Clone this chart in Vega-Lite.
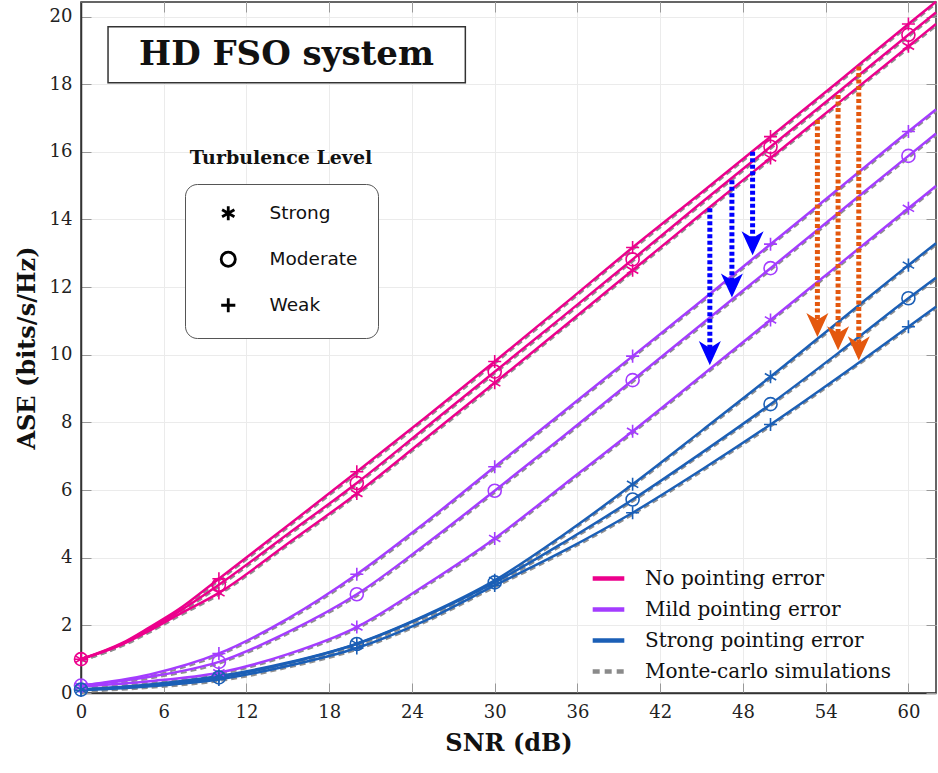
{
  "$schema": "https://vega.github.io/schema/vega-lite/v6.json",
  "width": 855,
  "height": 691,
  "autosize": {"type": "none"},
  "padding": {"left": 81, "top": 2, "right": 2, "bottom": 80},
  "background": "white",
  "config": {
    "view": {"stroke": "#333", "strokeWidth": 1.5},
    "font": "DejaVu Serif"
  },
  "datasets": {
    "curves": [
      {"pe": "No pointing error", "turb": "Weak", "snr": 0, "ase": 1.0},
      {"pe": "No pointing error", "turb": "Weak", "snr": 3, "ase": 1.48},
      {"pe": "No pointing error", "turb": "Weak", "snr": 5, "ase": 1.95},
      {"pe": "No pointing error", "turb": "Weak", "snr": 7, "ase": 2.45},
      {"pe": "No pointing error", "turb": "Weak", "snr": 10, "ase": 3.38},
      {"pe": "No pointing error", "turb": "Weak", "snr": 15, "ase": 4.95},
      {"pe": "No pointing error", "turb": "Weak", "snr": 20, "ase": 6.54},
      {"pe": "No pointing error", "turb": "Weak", "snr": 25, "ase": 8.15},
      {"pe": "No pointing error", "turb": "Weak", "snr": 30, "ase": 9.8},
      {"pe": "No pointing error", "turb": "Weak", "snr": 35, "ase": 11.48},
      {"pe": "No pointing error", "turb": "Weak", "snr": 40, "ase": 13.17},
      {"pe": "No pointing error", "turb": "Weak", "snr": 45, "ase": 14.8},
      {"pe": "No pointing error", "turb": "Weak", "snr": 50, "ase": 16.45},
      {"pe": "No pointing error", "turb": "Weak", "snr": 55, "ase": 18.1},
      {"pe": "No pointing error", "turb": "Weak", "snr": 60, "ase": 19.78},
      {"pe": "No pointing error", "turb": "Weak", "snr": 62, "ase": 20.44},
      {"pe": "No pointing error", "turb": "Moderate", "snr": 0, "ase": 1.0},
      {"pe": "No pointing error", "turb": "Moderate", "snr": 3, "ase": 1.46},
      {"pe": "No pointing error", "turb": "Moderate", "snr": 5, "ase": 1.9},
      {"pe": "No pointing error", "turb": "Moderate", "snr": 7, "ase": 2.38},
      {"pe": "No pointing error", "turb": "Moderate", "snr": 10, "ase": 3.2},
      {"pe": "No pointing error", "turb": "Moderate", "snr": 15, "ase": 4.7},
      {"pe": "No pointing error", "turb": "Moderate", "snr": 20, "ase": 6.21},
      {"pe": "No pointing error", "turb": "Moderate", "snr": 25, "ase": 7.85},
      {"pe": "No pointing error", "turb": "Moderate", "snr": 30, "ase": 9.5},
      {"pe": "No pointing error", "turb": "Moderate", "snr": 35, "ase": 11.15},
      {"pe": "No pointing error", "turb": "Moderate", "snr": 40, "ase": 12.82},
      {"pe": "No pointing error", "turb": "Moderate", "snr": 45, "ase": 14.5},
      {"pe": "No pointing error", "turb": "Moderate", "snr": 50, "ase": 16.15},
      {"pe": "No pointing error", "turb": "Moderate", "snr": 55, "ase": 17.8},
      {"pe": "No pointing error", "turb": "Moderate", "snr": 60, "ase": 19.46},
      {"pe": "No pointing error", "turb": "Moderate", "snr": 62, "ase": 20.12},
      {"pe": "No pointing error", "turb": "Strong", "snr": 0, "ase": 1.0},
      {"pe": "No pointing error", "turb": "Strong", "snr": 3, "ase": 1.44},
      {"pe": "No pointing error", "turb": "Strong", "snr": 5, "ase": 1.85},
      {"pe": "No pointing error", "turb": "Strong", "snr": 7, "ase": 2.3},
      {"pe": "No pointing error", "turb": "Strong", "snr": 10, "ase": 2.96},
      {"pe": "No pointing error", "turb": "Strong", "snr": 15, "ase": 4.42},
      {"pe": "No pointing error", "turb": "Strong", "snr": 20, "ase": 5.9},
      {"pe": "No pointing error", "turb": "Strong", "snr": 25, "ase": 7.53},
      {"pe": "No pointing error", "turb": "Strong", "snr": 30, "ase": 9.17},
      {"pe": "No pointing error", "turb": "Strong", "snr": 35, "ase": 10.83},
      {"pe": "No pointing error", "turb": "Strong", "snr": 40, "ase": 12.5},
      {"pe": "No pointing error", "turb": "Strong", "snr": 45, "ase": 14.17},
      {"pe": "No pointing error", "turb": "Strong", "snr": 50, "ase": 15.82},
      {"pe": "No pointing error", "turb": "Strong", "snr": 55, "ase": 17.47},
      {"pe": "No pointing error", "turb": "Strong", "snr": 60, "ase": 19.12},
      {"pe": "No pointing error", "turb": "Strong", "snr": 62, "ase": 19.78},
      {"pe": "Mild pointing error", "turb": "Weak", "snr": 0, "ase": 0.22},
      {"pe": "Mild pointing error", "turb": "Weak", "snr": 5, "ase": 0.55},
      {"pe": "Mild pointing error", "turb": "Weak", "snr": 10, "ase": 1.17},
      {"pe": "Mild pointing error", "turb": "Weak", "snr": 15, "ase": 2.2},
      {"pe": "Mild pointing error", "turb": "Weak", "snr": 20, "ase": 3.51},
      {"pe": "Mild pointing error", "turb": "Weak", "snr": 25, "ase": 5.05},
      {"pe": "Mild pointing error", "turb": "Weak", "snr": 30, "ase": 6.69},
      {"pe": "Mild pointing error", "turb": "Weak", "snr": 35, "ase": 8.32},
      {"pe": "Mild pointing error", "turb": "Weak", "snr": 40, "ase": 9.96},
      {"pe": "Mild pointing error", "turb": "Weak", "snr": 45, "ase": 11.6},
      {"pe": "Mild pointing error", "turb": "Weak", "snr": 50, "ase": 13.27},
      {"pe": "Mild pointing error", "turb": "Weak", "snr": 55, "ase": 14.93},
      {"pe": "Mild pointing error", "turb": "Weak", "snr": 60, "ase": 16.6},
      {"pe": "Mild pointing error", "turb": "Weak", "snr": 62, "ase": 17.25},
      {"pe": "Mild pointing error", "turb": "Moderate", "snr": 0, "ase": 0.22},
      {"pe": "Mild pointing error", "turb": "Moderate", "snr": 5, "ase": 0.48},
      {"pe": "Mild pointing error", "turb": "Moderate", "snr": 10, "ase": 0.92},
      {"pe": "Mild pointing error", "turb": "Moderate", "snr": 15, "ase": 1.8},
      {"pe": "Mild pointing error", "turb": "Moderate", "snr": 20, "ase": 2.92},
      {"pe": "Mild pointing error", "turb": "Moderate", "snr": 25, "ase": 4.4},
      {"pe": "Mild pointing error", "turb": "Moderate", "snr": 30, "ase": 5.98},
      {"pe": "Mild pointing error", "turb": "Moderate", "snr": 35, "ase": 7.6},
      {"pe": "Mild pointing error", "turb": "Moderate", "snr": 40, "ase": 9.25},
      {"pe": "Mild pointing error", "turb": "Moderate", "snr": 45, "ase": 10.9},
      {"pe": "Mild pointing error", "turb": "Moderate", "snr": 50, "ase": 12.56},
      {"pe": "Mild pointing error", "turb": "Moderate", "snr": 55, "ase": 14.22},
      {"pe": "Mild pointing error", "turb": "Moderate", "snr": 60, "ase": 15.88},
      {"pe": "Mild pointing error", "turb": "Moderate", "snr": 62, "ase": 16.54},
      {"pe": "Mild pointing error", "turb": "Strong", "snr": 0, "ase": 0.2},
      {"pe": "Mild pointing error", "turb": "Strong", "snr": 5, "ase": 0.35},
      {"pe": "Mild pointing error", "turb": "Strong", "snr": 10, "ase": 0.6},
      {"pe": "Mild pointing error", "turb": "Strong", "snr": 15, "ase": 1.15},
      {"pe": "Mild pointing error", "turb": "Strong", "snr": 20, "ase": 1.95},
      {"pe": "Mild pointing error", "turb": "Strong", "snr": 25, "ase": 3.2},
      {"pe": "Mild pointing error", "turb": "Strong", "snr": 30, "ase": 4.57},
      {"pe": "Mild pointing error", "turb": "Strong", "snr": 35, "ase": 6.15},
      {"pe": "Mild pointing error", "turb": "Strong", "snr": 40, "ase": 7.74},
      {"pe": "Mild pointing error", "turb": "Strong", "snr": 45, "ase": 9.38},
      {"pe": "Mild pointing error", "turb": "Strong", "snr": 50, "ase": 11.03},
      {"pe": "Mild pointing error", "turb": "Strong", "snr": 55, "ase": 12.68},
      {"pe": "Mild pointing error", "turb": "Strong", "snr": 60, "ase": 14.33},
      {"pe": "Mild pointing error", "turb": "Strong", "snr": 62, "ase": 14.99},
      {"pe": "Strong pointing error", "turb": "Strong", "snr": 0, "ase": 0.1},
      {"pe": "Strong pointing error", "turb": "Strong", "snr": 5, "ase": 0.25},
      {"pe": "Strong pointing error", "turb": "Strong", "snr": 10, "ase": 0.5},
      {"pe": "Strong pointing error", "turb": "Strong", "snr": 15, "ase": 0.9},
      {"pe": "Strong pointing error", "turb": "Strong", "snr": 20, "ase": 1.46},
      {"pe": "Strong pointing error", "turb": "Strong", "snr": 25, "ase": 2.3},
      {"pe": "Strong pointing error", "turb": "Strong", "snr": 30, "ase": 3.33},
      {"pe": "Strong pointing error", "turb": "Strong", "snr": 35, "ase": 4.68},
      {"pe": "Strong pointing error", "turb": "Strong", "snr": 40, "ase": 6.17},
      {"pe": "Strong pointing error", "turb": "Strong", "snr": 45, "ase": 7.75},
      {"pe": "Strong pointing error", "turb": "Strong", "snr": 50, "ase": 9.35},
      {"pe": "Strong pointing error", "turb": "Strong", "snr": 55, "ase": 11.0},
      {"pe": "Strong pointing error", "turb": "Strong", "snr": 60, "ase": 12.65},
      {"pe": "Strong pointing error", "turb": "Strong", "snr": 62, "ase": 13.3},
      {"pe": "Strong pointing error", "turb": "Moderate", "snr": 0, "ase": 0.1},
      {"pe": "Strong pointing error", "turb": "Moderate", "snr": 5, "ase": 0.24},
      {"pe": "Strong pointing error", "turb": "Moderate", "snr": 10, "ase": 0.46},
      {"pe": "Strong pointing error", "turb": "Moderate", "snr": 15, "ase": 0.88},
      {"pe": "Strong pointing error", "turb": "Moderate", "snr": 20, "ase": 1.45},
      {"pe": "Strong pointing error", "turb": "Moderate", "snr": 25, "ase": 2.28},
      {"pe": "Strong pointing error", "turb": "Moderate", "snr": 30, "ase": 3.27},
      {"pe": "Strong pointing error", "turb": "Moderate", "snr": 35, "ase": 4.45},
      {"pe": "Strong pointing error", "turb": "Moderate", "snr": 40, "ase": 5.72},
      {"pe": "Strong pointing error", "turb": "Moderate", "snr": 45, "ase": 7.1},
      {"pe": "Strong pointing error", "turb": "Moderate", "snr": 50, "ase": 8.54},
      {"pe": "Strong pointing error", "turb": "Moderate", "snr": 55, "ase": 10.08},
      {"pe": "Strong pointing error", "turb": "Moderate", "snr": 60, "ase": 11.67},
      {"pe": "Strong pointing error", "turb": "Moderate", "snr": 62, "ase": 12.28},
      {"pe": "Strong pointing error", "turb": "Weak", "snr": 0, "ase": 0.08},
      {"pe": "Strong pointing error", "turb": "Weak", "snr": 5, "ase": 0.2},
      {"pe": "Strong pointing error", "turb": "Weak", "snr": 10, "ase": 0.4},
      {"pe": "Strong pointing error", "turb": "Weak", "snr": 15, "ase": 0.8},
      {"pe": "Strong pointing error", "turb": "Weak", "snr": 20, "ase": 1.33},
      {"pe": "Strong pointing error", "turb": "Weak", "snr": 25, "ase": 2.15},
      {"pe": "Strong pointing error", "turb": "Weak", "snr": 30, "ase": 3.18},
      {"pe": "Strong pointing error", "turb": "Weak", "snr": 35, "ase": 4.2},
      {"pe": "Strong pointing error", "turb": "Weak", "snr": 40, "ase": 5.33},
      {"pe": "Strong pointing error", "turb": "Weak", "snr": 45, "ase": 6.6},
      {"pe": "Strong pointing error", "turb": "Weak", "snr": 50, "ase": 7.94},
      {"pe": "Strong pointing error", "turb": "Weak", "snr": 55, "ase": 9.36},
      {"pe": "Strong pointing error", "turb": "Weak", "snr": 60, "ase": 10.83},
      {"pe": "Strong pointing error", "turb": "Weak", "snr": 62, "ase": 11.42}
    ],
    "arrows": [
      {"kind": "blue", "snr": 45.6, "top": 14.33, "end": 10.1},
      {"kind": "blue", "snr": 47.2, "top": 15.16, "end": 12.1},
      {"kind": "blue", "snr": 48.7, "top": 16.0, "end": 13.35},
      {"kind": "orange", "snr": 53.4, "top": 16.94, "end": 10.93},
      {"kind": "orange", "snr": 54.9, "top": 17.68, "end": 10.54},
      {"kind": "orange", "snr": 56.4, "top": 18.52, "end": 10.24}
    ],
    "notes": [
      {"x1": 1.96, "x2": 27.87, "y1": 18.04, "y2": 19.7, "xc": 14.9, "yc": 18.87, "label": "HD FSO system"}
    ],
    "turbtitle": [
      {"x": 14.5, "y": 15.82, "label": "Turbulence Level"}
    ]
  },
  "resolve": {"axis": {"x": "independent", "y": "independent"}},
  "layer": [
    {
      "data": {"name": "curves"},
      "mark": {"type": "line", "interpolate": "monotone", "color": "#8f8f8f", "strokeWidth": 2, "strokeDash": [6, 4], "yOffset": 1.6, "xOffset": 0.8},
      "encoding": {
        "x": {"field": "snr", "type": "quantitative", "scale": {"domain": [0, 62], "nice": false, "zero": false},
          "axis": {"values": [0, 6, 12, 18, 24, 30, 36, 42, 48, 54, 60], "title": "SNR  (dB)", "grid": true, "gridColor": "#ebebeb",
            "tickSize": -10, "tickColor": "#999", "domainColor": "#333", "domainWidth": 1.5, "labelFlush": false,
            "labelFont": "DejaVu Serif", "labelFontSize": 18, "labelColor": "#222", "labelPadding": 20,
            "titleFont": "DejaVu Serif", "titleFontSize": 24, "titleFontWeight": "bold", "titleColor": "#111", "titlePadding": 10}},
        "y": {"field": "ase", "type": "quantitative", "scale": {"domain": [0, 20.43], "nice": false},
          "axis": {"values": [0, 2, 4, 6, 8, 10, 12, 14, 16, 18, 20], "title": "ASE (bits/s/Hz)", "grid": true, "gridColor": "#ebebeb",
            "tickSize": -10, "tickColor": "#999", "domainColor": "#333", "domainWidth": 1.5, "labelFlush": false,
            "labelFont": "DejaVu Serif", "labelFontSize": 18, "labelColor": "#222", "labelPadding": 19,
            "titleFont": "DejaVu Serif", "titleFontSize": 24, "titleFontWeight": "bold", "titleColor": "#111", "titlePadding": 10}},
        "detail": [{"field": "pe"}, {"field": "turb"}]
      }
    },
    {
      "data": {"name": "curves"},
      "mark": {"type": "line", "interpolate": "monotone", "strokeWidth": 2.5},
      "encoding": {
        "x": {"field": "snr", "type": "quantitative", "scale": {"domain": [0, 62], "nice": false, "zero": false}, "axis": null},
        "y": {"field": "ase", "type": "quantitative", "scale": {"domain": [0, 20.43], "nice": false}, "axis": null},
        "color": {"field": "pe", "type": "nominal",
          "scale": {"domain": ["No pointing error", "Mild pointing error", "Strong pointing error", "Monte-carlo simulations"],
                    "range": ["#EC008C", "#A43CFF", "#1B5FB6", "#8a8a8a"]},
          "legend": {"title": null, "orient": "none", "legendX": 509, "legendY": 558,
            "symbolType": "stroke", "symbolSize": 1000, "symbolStrokeWidth": 4.5,
            "labelFont": "DejaVu Serif", "labelFontSize": 20, "labelColor": "#111", "labelOffset": 18, "labelLimit": 0,
            "rowPadding": 2, "padding": 0,
            "encode": {"symbols": {"update": {"strokeDash": {"signal": "datum.value === 'Monte-carlo simulations' ? [7, 5] : [1, 0]"}}}}}},
        "detail": {"field": "turb"}
      }
    },
    {
      "data": {"name": "curves"},
      "transform": [{"filter": "datum.snr % 10 === 0"}],
      "mark": {"type": "point", "filled": false, "strokeWidth": 1.6, "size": 170, "opacity": 1},
      "encoding": {
        "x": {"field": "snr", "type": "quantitative", "scale": {"domain": [0, 62], "nice": false, "zero": false}, "axis": null},
        "y": {"field": "ase", "type": "quantitative", "scale": {"domain": [0, 20.43], "nice": false}, "axis": null},
        "color": {"field": "pe", "type": "nominal"},
        "shape": {"field": "turb", "type": "nominal",
          "scale": {"domain": ["Strong", "Moderate", "Weak"],
                    "range": ["M0,-1L0,1M-0.87,-0.5L0.87,0.5M-0.87,0.5L0.87,-0.5", "circle", "M-1,0L1,0M0,-1L0,1"]},
          "legend": {"title": null, "orient": "none", "legendX": 104, "legendY": 182,
            "strokeColor": "#555", "cornerRadius": 12, "fillColor": "white", "padding": 20,
            "symbolStrokeColor": "#000", "symbolFillColor": "transparent", "symbolStrokeWidth": 2.8, "symbolSize": 200, "symbolOffset": 14,
            "labelFont": "DejaVu Sans", "labelFontSize": 18.5, "labelColor": "#111", "labelOffset": 32, "rowPadding": 20}}
      }
    },
    {
      "data": {"name": "arrows"},
      "mark": {"type": "rule", "strokeWidth": 5, "strokeDash": [4, 2.5], "strokeCap": "butt"},
      "encoding": {
        "x": {"field": "snr", "type": "quantitative", "scale": {"domain": [0, 62], "nice": false, "zero": false}, "axis": null},
        "y": {"field": "top", "type": "quantitative", "scale": {"domain": [0, 20.43], "nice": false}, "axis": null},
        "y2": {"field": "end"},
        "stroke": {"condition": {"test": "datum.kind === 'blue'", "value": "#0000FF"}, "value": "#E4580E"}
      }
    },
    {
      "data": {"name": "arrows"},
      "mark": {"type": "point", "filled": true, "size": 760, "opacity": 1, "shape": "M0,1L-0.8,-0.75L0,-0.25L0.8,-0.75Z"},
      "encoding": {
        "x": {"field": "snr", "type": "quantitative", "scale": {"domain": [0, 62], "nice": false, "zero": false}, "axis": null},
        "y": {"field": "end", "type": "quantitative", "scale": {"domain": [0, 20.43], "nice": false}, "axis": null},
        "fill": {"condition": {"test": "datum.kind === 'blue'", "value": "#0000FF"}, "value": "#E4580E"}
      }
    },
    {
      "data": {"name": "notes"},
      "mark": {"type": "rect", "fill": "white", "stroke": "#333", "strokeWidth": 1.5},
      "encoding": {
        "x": {"field": "x1", "type": "quantitative", "scale": {"domain": [0, 62], "nice": false, "zero": false},
          "axis": {"orient": "top", "values": [0, 6, 12, 18, 24, 30, 36, 42, 48, 54, 60], "labels": false, "title": null, "grid": false, "domain": false, "tickSize": -10, "tickColor": "#999"}},
        "x2": {"field": "x2"},
        "y": {"field": "y1", "type": "quantitative", "scale": {"domain": [0, 20.43], "nice": false},
          "axis": {"orient": "right", "values": [0, 2, 4, 6, 8, 10, 12, 14, 16, 18, 20], "labels": false, "title": null, "grid": false, "domain": false, "tickSize": -10, "tickColor": "#999"}},
        "y2": {"field": "y2"}
      }
    },
    {
      "data": {"name": "notes"},
      "mark": {"type": "text", "font": "DejaVu Serif", "fontSize": 34, "fontWeight": "bold", "color": "#111", "align": "center", "baseline": "middle"},
      "encoding": {
        "x": {"field": "xc", "type": "quantitative", "scale": {"domain": [0, 62], "nice": false, "zero": false}, "axis": null},
        "y": {"field": "yc", "type": "quantitative", "scale": {"domain": [0, 20.43], "nice": false}, "axis": null},
        "text": {"field": "label"}
      }
    },
    {
      "data": {"name": "turbtitle"},
      "mark": {"type": "text", "font": "DejaVu Serif", "fontSize": 19, "fontWeight": "bold", "color": "#111", "align": "center", "baseline": "middle"},
      "encoding": {
        "x": {"field": "x", "type": "quantitative", "scale": {"domain": [0, 62], "nice": false, "zero": false}, "axis": null},
        "y": {"field": "y", "type": "quantitative", "scale": {"domain": [0, 20.43], "nice": false}, "axis": null},
        "text": {"field": "label"}
      }
    }
  ]
}
